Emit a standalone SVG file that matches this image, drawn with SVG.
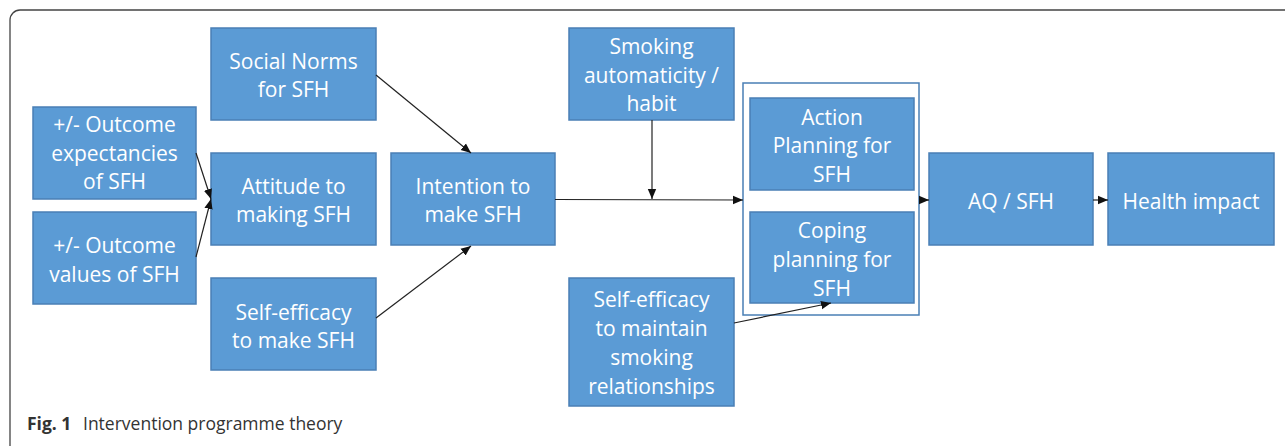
<svg xmlns="http://www.w3.org/2000/svg" width="1285" height="446" viewBox="0 0 1285 446">
<style>
.box{fill:#5b9bd5;stroke:#4a7fb5;stroke-width:1.5}
.t{font-family:"Open Sans","Noto Sans",sans-serif;font-size:21px;fill:#fff;text-anchor:middle}
.c{stroke:#222;stroke-width:1.2;fill:none;marker-end:url(#ah)}
.cap{font-family:"Open Sans","Noto Sans",sans-serif;font-size:17.5px;fill:#333}
</style>
<defs>
<marker id="ah" markerUnits="userSpaceOnUse" markerWidth="10" markerHeight="10" viewBox="0 0 10 10" refX="10" refY="5" orient="auto">
<path d="M0,0.8 L10,5 L0,9.2 Z" fill="#111"/>
</marker>
</defs>
<rect x="10" y="10" width="1300" height="460" rx="10" fill="none" stroke="#444" stroke-width="1.3"/>
<g id="planning-group">
<rect x="743" y="83" width="176" height="232" fill="#fff" stroke="#4a7fb5" stroke-width="1.5"/>
</g>
<g id="outcome-expectancies">
<rect class="box" x="33" y="107" width="163" height="92"/>
<text class="t" x="114.5" y="132">+/- Outcome</text>
<text class="t" x="114.5" y="160.5">expectancies</text>
<text class="t" x="114.5" y="189">of SFH</text>
</g>
<g id="outcome-values">
<rect class="box" x="33" y="212" width="163" height="92"/>
<text class="t" x="114.5" y="253">+/- Outcome</text>
<text class="t" x="114.5" y="281.5">values of SFH</text>
</g>
<g id="social-norms">
<rect class="box" x="211" y="28" width="165" height="92"/>
<text class="t" x="293.5" y="68.5">Social Norms</text>
<text class="t" x="293.5" y="96.5">for SFH</text>
</g>
<g id="attitude">
<rect class="box" x="211" y="153" width="165" height="92"/>
<text class="t" x="293.5" y="193.5">Attitude to</text>
<text class="t" x="293.5" y="221.5">making SFH</text>
</g>
<g id="self-efficacy-make">
<rect class="box" x="211" y="278" width="165" height="92"/>
<text class="t" x="293.5" y="319.5">Self-efficacy</text>
<text class="t" x="293.5" y="347.5">to make SFH</text>
</g>
<g id="intention">
<rect class="box" x="391" y="153" width="164" height="92"/>
<text class="t" x="473" y="193.5">Intention to</text>
<text class="t" x="473" y="221.5">make SFH</text>
</g>
<g id="smoking-automaticity">
<rect class="box" x="569" y="28" width="165" height="92"/>
<text class="t" x="651.5" y="54">Smoking</text>
<text class="t" x="651.5" y="82.5">automaticity /</text>
<text class="t" x="651.5" y="111">habit</text>
</g>
<g id="action-planning">
<rect class="box" x="750" y="98" width="164" height="92"/>
<text class="t" x="832" y="124.5">Action</text>
<text class="t" x="832" y="153">Planning for</text>
<text class="t" x="832" y="181.5">SFH</text>
</g>
<g id="coping-planning">
<rect class="box" x="750" y="212" width="164" height="91"/>
<text class="t" x="832" y="237.5">Coping</text>
<text class="t" x="832" y="266.5">planning for</text>
<text class="t" x="832" y="295.5">SFH</text>
</g>
<g id="self-efficacy-maintain">
<rect class="box" x="569" y="278" width="165" height="128"/>
<text class="t" x="651.5" y="306.5">Self-efficacy</text>
<text class="t" x="651.5" y="335.5">to maintain</text>
<text class="t" x="651.5" y="364.5">smoking</text>
<text class="t" x="651.5" y="394">relationships</text>
</g>
<g id="aq-sfh">
<rect class="box" x="929" y="153" width="164" height="92"/>
<text class="t" x="1011" y="208.5">AQ / SFH</text>
</g>
<g id="health-impact">
<rect class="box" x="1108" y="153" width="166" height="92"/>
<text class="t" x="1191" y="208.5">Health impact</text>
</g>
<g id="connectors">
<path class="c" d="M376,75 L471,153"/>
<path class="c" d="M376,318 L471,246"/>
<path class="c" d="M196,153 L211,199"/>
<path class="c" d="M196,257 L211,199"/>
<path class="c" d="M555,199.5 L743,200"/>
<path class="c" d="M652,120 L652,199"/>
<path class="c" d="M734,323 L831,303"/>
<path class="c" d="M919,200 L929,200"/>
<path class="c" d="M1093,200 L1108,200"/>
</g>
<text class="cap" x="27" y="430"><tspan font-weight="bold">Fig. 1</tspan><tspan x="83">Intervention programme theory</tspan></text>
</svg>
